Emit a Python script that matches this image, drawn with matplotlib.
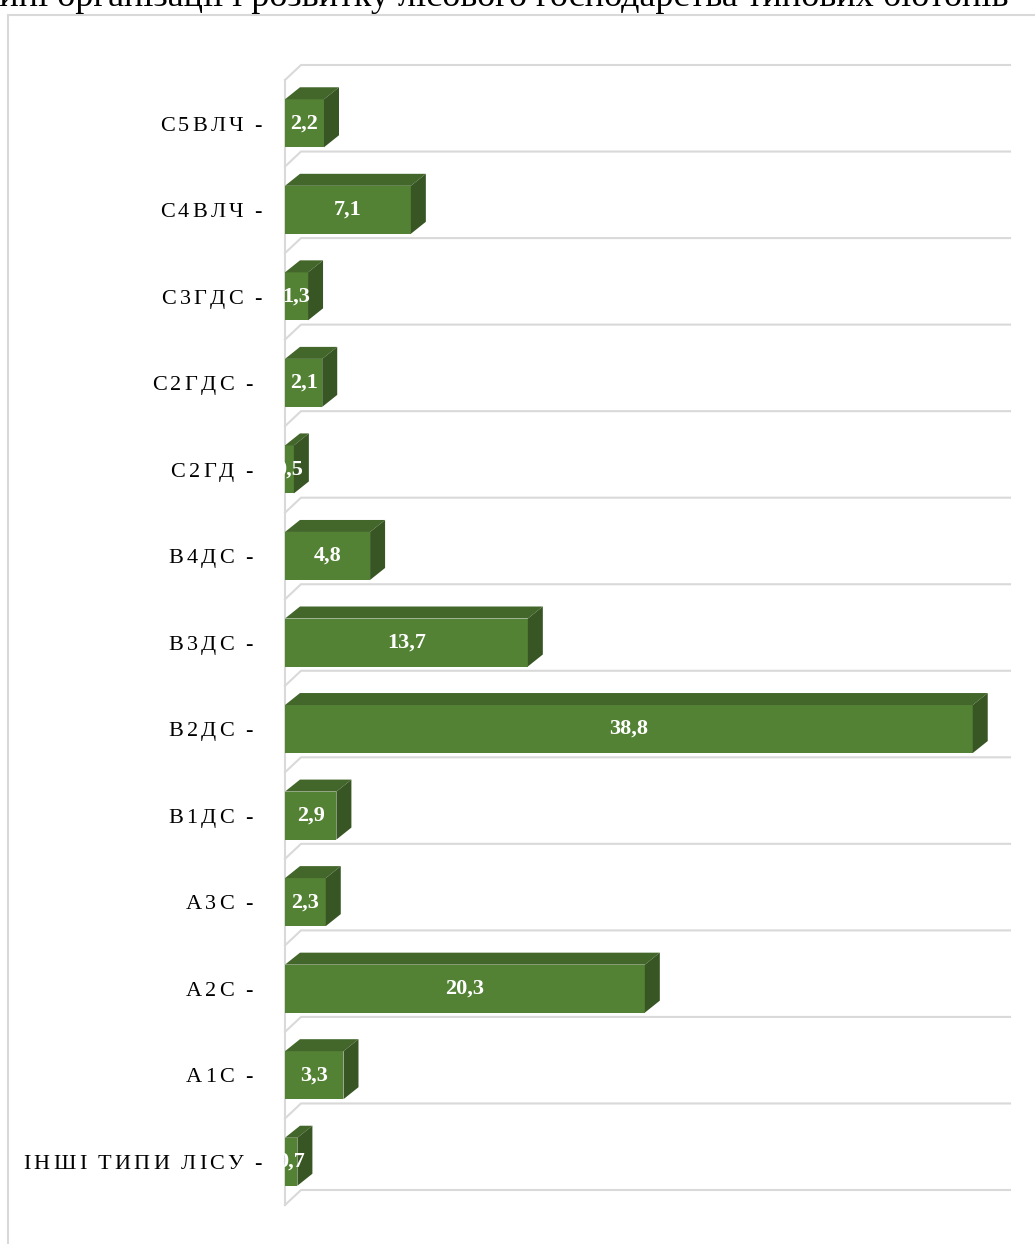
import matplotlib
matplotlib.use('Agg')
import matplotlib.pyplot as plt
from matplotlib.patches import Polygon, Rectangle
from matplotlib.font_manager import FontProperties
from matplotlib.textpath import TextToPath
from matplotlib.transforms import offset_copy

# data (top to bottom as in the chart)
categories = ['С5ВЛЧ', 'С4ВЛЧ', 'С3ГДС', 'С2ГДС ', 'С2ГД ', 'В4ДС ', 'В3ДС ',
              'В2ДС ', 'В1ДС ', 'А3С ', 'А2С ', 'А1С ', 'ІНШІ ТИПИ ЛІСУ']
values = [2.2, 7.1, 1.3, 2.1, 0.5, 4.8, 13.7, 38.8, 2.9, 2.3, 20.3, 3.3, 0.7]
value_labels = ['2,2', '7,1', '1,3', '2,1', '0,5', '4,8', '13,7', '38,8', '2,9',
                '2,3', '20,3', '3,3', '0,7']
header = 'нині організації і розвитку лісового господарства типових біотопів'

FRONT = '#548235'
TOP = '#43672b'
SIDE = '#375623'
GRID = '#d9d9d9'
SERIF = ['Liberation Serif', 'DejaVu Serif']
DPI = 100

W, H = 1035, 1244
fig = plt.figure(figsize=(W / DPI, H / DPI), dpi=DPI)

# outer chart frame and the cut-off line of document text above it
fig.add_artist(Rectangle((8 / W, -0.1), 1.2, (H - 15) / H + 0.1,
                         transform=fig.transFigure, fill=False, ec=GRID, lw=1.5))
fig.text(-20 / W, 1 - 6 / H, header, fontsize=26, family=SERIF, va='baseline')

ax_l, ax_r, ax_t, ax_b = 285, 994, 80, 1205
ax = fig.add_axes([ax_l / W, (H - ax_b) / H, (ax_r - ax_l) / W, (ax_b - ax_t) / H])
xmax = 40
n = len(categories)
ax.set_xlim(0, xmax)
ax.set_ylim(-0.5, n - 0.5)
ax.axis('off')

px_x = (ax_r - ax_l) / xmax
px_y = (ax_b - ax_t) / n
wdx, wdy = 16 / px_x, 15 / px_y     # wall depth
bdx, bdy = 15 / px_x, 12 / px_y     # bar depth
h = 48 / px_y

ypos = [n - 1 - i for i in range(n)]

# side wall edge and back wall gridlines
ax.plot([0, 0], [-0.5, n - 0.5], color=GRID, lw=1.5, clip_on=False, zorder=1)
for k in range(n + 1):
    b = -0.5 + k
    ax.plot([0, wdx, xmax + wdx], [b, b + wdy, b + wdy], color=GRID, lw=1.5,
            clip_on=False, zorder=1, solid_joinstyle='miter')

# 3d bars
ax.barh(ypos, values, height=h, color=FRONT, zorder=3, clip_on=False)
for y, v in zip(ypos, values):
    y0, y1 = y - h / 2, y + h / 2
    top = Polygon([(0, y1), (bdx, y1 + bdy), (v + bdx, y1 + bdy), (v, y1)],
                  closed=True, fc=TOP, ec='none', zorder=3, clip_on=False)
    side = Polygon([(v, y0), (v + bdx, y0 + bdy), (v + bdx, y1 + bdy), (v, y1)],
                   closed=True, fc=SIDE, ec='none', zorder=3, clip_on=False)
    ax.add_patch(top)
    ax.add_patch(side)

for y, v, lab in zip(ypos, values, value_labels):
    ax.text(v / 2, y, lab, color='white', fontsize=16, fontweight='bold',
            family=SERIF, ha='center', va='center', zorder=5, clip_on=False)

# category labels, letter by letter to get the wide tracking
lab_size = 16
prop = FontProperties(family=SERIF, size=lab_size)
ttp = TextToPath()
TRACK, SPACE, TRAIL = 3.3, 8, 9   # pixels
base_dy = -0.655 * lab_size * DPI / 72 / 2
lab_x = (262 - ax_l) / px_x


def char_width(ch):
    w, _, _ = ttp.get_text_width_height_descent(ch, prop, ismath=False)
    return w * DPI / 72


for y, c in zip(ypos, categories):
    s = c.rstrip() + ' -' + c[len(c.rstrip()):]
    pos = 0.0
    placed = False
    for ch in reversed(s):
        if ch == ' ':
            pos -= SPACE if placed else TRAIL
            continue
        if placed:
            pos -= TRACK
        pos -= char_width(ch)
        tr = offset_copy(ax.transData, fig=fig, x=pos, y=base_dy, units='dots')
        ax.text(lab_x, y, ch, transform=tr, fontproperties=prop, ha='left',
                va='baseline', clip_on=False)
        placed = True

fig.savefig('out.png', dpi=DPI)
